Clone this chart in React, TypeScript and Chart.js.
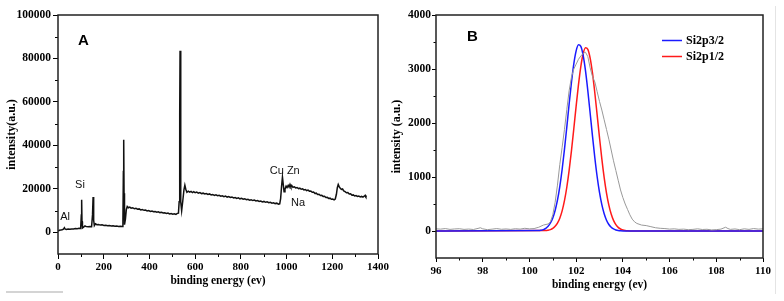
import React, { useEffect, useRef } from 'react';
import { Chart, registerables } from 'chart.js';

Chart.register(...registerables);

// ---------- Panel A: survey spectrum ----------
const surveyEnergy = [
  0, 6, 12, 18, 24, 28, 31, 36, 44, 52, 60, 68, 76, 84, 92, 99, 102, 103.5, 105, 107,
  112, 118, 124, 132, 140, 147, 151, 153.5, 156, 159, 164, 170, 177, 185, 193, 201, 209, 217, 225, 233,
  241, 249, 257, 265, 273, 280, 284, 286, 287.5, 289, 291, 295, 299, 303, 308, 314, 320, 327, 334, 341,
  348, 355, 362, 369, 376, 383, 390, 397, 404, 411, 418, 425, 432, 439, 446, 453, 460, 467, 474, 481,
  488, 495, 502, 509, 516, 522, 527, 530, 532.5, 534, 536, 538, 541, 546, 551, 555, 559, 564, 570, 576,
  582, 588, 594, 600, 607, 614, 621, 628, 635, 642, 649, 656, 663, 670, 677, 684, 691, 698, 705, 712,
  719, 726, 733, 740, 747, 754, 761, 768, 775, 782, 789, 796, 803, 810, 817, 824, 831, 838, 845, 852,
  859, 866, 873, 880, 887, 894, 901, 908, 915, 922, 929, 936, 943, 950, 957, 964, 970, 974, 978, 982,
  985, 989, 993, 998, 1002, 1007, 1011, 1015, 1019, 1023, 1028, 1034, 1040, 1046, 1052, 1058, 1064, 1070, 1076, 1082,
  1088, 1094, 1100, 1106, 1112, 1118, 1124, 1130, 1136, 1142, 1148, 1154, 1160, 1166, 1172, 1178, 1184, 1190, 1196, 1202,
  1208, 1213, 1218, 1222, 1226, 1230, 1235, 1240, 1245, 1250, 1256, 1262, 1268, 1274, 1280, 1286, 1292, 1298, 1304, 1310,
  1316, 1322, 1328, 1334, 1340, 1344, 1347, 1350,
];
const surveyIntensity = [
  500, 900, 1000, 1200, 1400, 2100, 1500, 1300, 1450, 1350, 1550, 1500, 1700, 1650, 1800, 1750, 8000, 15000, 5000, 2000,
  2400, 2900, 2600, 2500, 2700, 2600, 8000, 16200, 5500, 3100, 3900, 3500, 3600, 3300, 3400, 3150, 3250, 3000, 3100, 2900,
  2950, 2800, 2850, 2700, 2750, 2650, 5000, 28000, 42600, 18000, 3500, 6000, 10500, 11900, 11300, 11600, 11100, 11300, 10800, 11000,
  10600, 10750, 10300, 10500, 10100, 10250, 9850, 10000, 9600, 9800, 9450, 9600, 9250, 9400, 9050, 9200, 8850, 9000, 8700, 8850,
  8450, 8650, 8300, 8550, 8250, 8700, 8800, 14000, 55000, 83500, 45000, 14000, 9900, 14500, 19500, 21700, 19800, 18400, 18900, 18500,
  18800, 18300, 18700, 18200, 18500, 18000, 18300, 17800, 18000, 17600, 17850, 17400, 17650, 17200, 17400, 16950, 17200, 16800, 17000, 16600,
  16800, 16400, 16650, 16200, 16450, 16000, 16250, 15800, 16000, 15600, 15850, 15400, 15650, 15200, 15450, 15000, 15200, 14800, 15000, 14600,
  14800, 14400, 14600, 14200, 14400, 14000, 14200, 13800, 14000, 13600, 13800, 13400, 13600, 13200, 13400, 12900, 13100, 15500, 21000, 25400,
  22500, 18600, 19800, 21200, 20600, 21600, 20800, 22000, 20900, 21500, 20700, 20900, 20400, 20600, 20100, 20300, 19800, 20000, 19500, 19700,
  19200, 19400, 18900, 19000, 18400, 18500, 17900, 18000, 17400, 17500, 16900, 17000, 16500, 16600, 16000, 16100, 15600, 15700, 15200, 15300,
  14900, 15300, 17500, 20500, 22000, 21000, 20300, 19700, 19900, 19000, 18700, 18200, 18300, 17600, 17700, 17100, 17200, 16700, 16900, 16500,
  16700, 16300, 16500, 16200, 16600, 17000, 16400, 16700,
];
const surveyNoteText = ['Al', 'Si', 'Cu Zn', 'Na'];
const surveyNoteEnergy = [31, 96, 992, 1050];
const surveyNoteIntensity = [7000, 22000, 28000, 13500];
const surveyXTicks = [0, 200, 400, 600, 800, 1000, 1200, 1400];
const surveyXMinor = [100, 300, 500, 700, 900, 1100, 1300];
const surveyYTicks = [0, 20000, 40000, 60000, 80000, 100000];
const surveyYMinor = [10000, 30000, 50000, 70000, 90000];

// ---------- Panel B: Si 2p ----------
const siRawEnergy = [
  96.0, 96.2, 96.4, 96.6, 96.8, 97.0, 97.2, 97.4, 97.6, 97.8, 97.9, 98.0, 98.2, 98.4, 98.6, 98.8, 99.0, 99.2, 99.4, 99.6,
  99.8, 100.0, 100.2, 100.4, 100.6, 100.8, 100.9, 101.0, 101.1, 101.2, 101.3, 101.4, 101.5, 101.6, 101.7, 101.8, 101.9, 102.0, 102.1, 102.2,
  102.3, 102.4, 102.5, 102.6, 102.7, 102.8, 102.9, 103.0, 103.1, 103.2, 103.3, 103.4, 103.5, 103.6, 103.7, 103.8, 103.9, 104.0, 104.1, 104.2,
  104.3, 104.4, 104.5, 104.6, 104.8, 105.0, 105.2, 105.4, 105.6, 105.8, 106.0, 106.2, 106.4, 106.6, 106.8, 107.0, 107.2, 107.4, 107.6, 107.8,
  108.0, 108.2, 108.4, 108.5, 108.6, 108.8, 109.0, 109.2, 109.4, 109.6, 109.8, 110.0,
];
const siRawIntensity = [
  40, 35, 45, 30, 38, 42, 30, 36, 28, 48, 60, 40, 25, 34, 45, 32, 38, 30, 42, 35,
  50, 40, 45, 70, 110, 130, 170, 300, 530, 850, 1230, 1550, 1880, 2250, 2600, 2850, 3000, 3090, 3180, 3240,
  3290, 3310, 3230, 3020, 2860, 2760, 2580, 2400, 2240, 2060, 1880, 1700, 1500, 1300, 1120, 940, 760, 620, 500, 400,
  300, 220, 170, 140, 110, 100, 80, 60, 50, 45, 35, 40, 30, 35, 25, 30, 40, 28, 32, 20,
  25, 35, 70, 45, 30, 38, 25, 40, 30, 45, 35, 40,
];
const si32Energy = [
  96, 100.4, 100.5, 100.6, 100.7, 100.8, 100.9, 101.0, 101.1, 101.2, 101.3, 101.4, 101.5, 101.6, 101.7, 101.8, 101.9, 102.0, 102.1, 102.2,
  102.3, 102.4, 102.5, 102.6, 102.7, 102.8, 102.9, 103.0, 103.1, 103.2, 103.3, 103.4, 103.5, 103.6, 103.7, 103.8, 103.9, 104.1, 110,
];
const si32Intensity = [
  0, 7, 14, 26, 49, 87, 148, 242, 379, 570, 823, 1139, 1512, 1925, 2351, 2754, 3095, 3335, 3448, 3420,
  3253, 2969, 2598, 2181, 1757, 1357, 1005, 714, 487, 319, 200, 120, 69, 38, 20, 10, 5, 0, 0,
];
const si12Energy = [
  96, 100.7, 100.8, 100.9, 101.0, 101.1, 101.2, 101.3, 101.4, 101.5, 101.6, 101.7, 101.8, 101.9, 102.0, 102.1, 102.2, 102.3, 102.4, 102.5,
  102.6, 102.7, 102.8, 102.9, 103.0, 103.1, 103.2, 103.3, 103.4, 103.5, 103.6, 103.7, 103.8, 103.9, 104.0, 104.1, 104.2, 104.4, 110,
];
const si12Intensity = [
  0, 7, 14, 26, 48, 86, 146, 238, 373, 561, 810, 1121, 1488, 1894, 2313, 2710, 3046, 3282, 3393, 3365,
  3201, 2922, 2556, 2146, 1729, 1335, 989, 703, 479, 314, 197, 118, 68, 37, 20, 10, 5, 0, 0,
];
const siLabels = ['Si2p3/2', 'Si2p1/2'];
const siXTicks = [96, 98, 100, 102, 104, 106, 108, 110];
const siXMinor = [97, 99, 101, 103, 105, 107, 109];
const siYTicks = [0, 1000, 2000, 3000, 4000];
const siYMinor = [500, 1500, 2500, 3500];

const SERIF = '"Liberation Serif", "Times New Roman", serif';
const SANS = '"Liberation Sans", Arial, sans-serif';

const toPoints = (xs: number[], ys: number[]) => xs.map((x, i) => ({ x, y: ys[i] }));

const framePlugin = {
  id: 'frame',
  afterDraw(chart: any, _args: any, opts: any) {
    const { ctx, chartArea: a, scales } = chart;
    const xs = scales.x;
    const ys = scales.y;
    ctx.save();
    ctx.strokeStyle = '#000';
    ctx.lineWidth = 1;
    ctx.beginPath();
    for (const v of opts.minorX) {
      const px = Math.round(xs.getPixelForValue(v)) + 0.5;
      ctx.moveTo(px, a.bottom);
      ctx.lineTo(px, a.bottom + opts.minorLen);
    }
    for (const v of opts.minorY) {
      const py = Math.round(ys.getPixelForValue(v)) + 0.5;
      ctx.moveTo(a.left, py);
      ctx.lineTo(a.left - opts.minorLen, py);
    }
    ctx.stroke();
    ctx.lineWidth = 1.5;
    ctx.strokeStyle = '#222';
    ctx.strokeRect(a.left, a.top, a.right - a.left, a.bottom - a.top);

    ctx.fillStyle = '#000';
    ctx.textAlign = 'center';
    ctx.textBaseline = 'middle';
    ctx.font = `bold 15px ${SANS}`;
    ctx.fillText(opts.panel, a.left + opts.panelDx, a.top + opts.panelDy);

    ctx.font = `11px ${SANS}`;
    ctx.fillStyle = '#111';
    (opts.notes || []).forEach((n: any) => {
      ctx.fillText(n.text, xs.getPixelForValue(n.x), ys.getPixelForValue(n.y));
    });

    if (opts.legend) {
      ctx.textAlign = 'left';
      ctx.font = `bold 12px ${SERIF}`;
      let j = 0;
      chart.data.datasets.forEach((ds: any) => {
        if (!ds.label) return;
        const y = Math.round(a.top + 25 + j * 16) + 0.5;
        const x0 = a.right - 101;
        ctx.strokeStyle = ds.borderColor;
        ctx.lineWidth = 1.5;
        ctx.beginPath();
        ctx.moveTo(x0, y);
        ctx.lineTo(x0 + 20, y);
        ctx.stroke();
        ctx.fillStyle = '#000';
        ctx.fillText(ds.label, x0 + 24, y);
        j++;
      });
    }
    ctx.restore();
  },
};

function makeScales(cfg: any) {
  const tickFontX = { family: SERIF, size: 11, weight: 'bold' };
  const tickFontY = { family: SERIF, size: 11.5, weight: 'bold' };
  return {
    x: {
      type: 'linear',
      min: cfg.xMin,
      max: cfg.xMax,
      afterBuildTicks: (s: any) => { s.ticks = cfg.xTicks.map((v: number) => ({ value: v })); },
      afterFit: (s: any) => { s.height = cfg.xHeight; },
      ticks: { color: '#000', font: tickFontX, padding: cfg.xPad, autoSkip: false, maxRotation: 0, callback: (v: any) => String(v) },
      grid: { drawOnChartArea: false, drawTicks: true, tickLength: cfg.tickLen, color: '#000', tickColor: '#000' },
      border: { display: false },
      title: { display: true, text: 'binding energy (ev)', color: '#000', font: { family: SERIF, size: 11.5, weight: 'bold' }, padding: { top: 0, bottom: cfg.xTitlePad } },
    },
    y: {
      type: 'linear',
      min: cfg.yMin,
      max: cfg.yMax,
      afterBuildTicks: (s: any) => { s.ticks = cfg.yTicks.map((v: number) => ({ value: v })); },
      afterFit: (s: any) => { s.width = cfg.yWidth; },
      ticks: { color: '#000', font: tickFontY, padding: cfg.yPad, autoSkip: false, callback: (v: any) => String(v) },
      grid: { drawOnChartArea: false, drawTicks: true, tickLength: cfg.tickLen, color: '#000', tickColor: '#000' },
      border: { display: false },
      title: { display: true, text: cfg.yTitle, color: '#000', font: { family: SERIF, size: 12, weight: 'bold' }, padding: { top: cfg.yTitlePad, bottom: 0 } },
    },
  };
}

function SurveyChart() {
  const ref = useRef<HTMLCanvasElement | null>(null);
  useEffect(() => {
    if (!ref.current) return;
    const chart = new Chart(ref.current, {
      type: 'line',
      data: {
        datasets: [
          {
            data: toPoints(surveyEnergy, surveyIntensity),
            borderColor: '#111',
            borderWidth: 1.5,
            pointRadius: 0,
            tension: 0,
            fill: false,
          },
        ],
      },
      options: {
        animation: false,
        responsive: false,
        devicePixelRatio: 1,
        parsing: false,
        layout: { padding: { top: 15, right: 14, left: 0, bottom: 0 } },
        plugins: {
          legend: { display: false },
          tooltip: { enabled: false },
          frame: {
            minorX: surveyXMinor,
            minorY: surveyYMinor,
            minorLen: 3,
            panel: 'A',
            panelDx: 25.5,
            panelDy: 26,
            notes: surveyNoteText.map((t, i) => ({ text: t, x: surveyNoteEnergy[i], y: surveyNoteIntensity[i] })),
            legend: false,
          },
        } as any,
        scales: makeScales({
          xMin: 0, xMax: 1400, xTicks: surveyXTicks, xHeight: 47, xPad: 2, xTitlePad: 12.7,
          yMin: -10000, yMax: 100000, yTicks: surveyYTicks, yWidth: 58, yPad: 2, yTitlePad: 4.5,
          yTitle: 'intensity(a.u.)', tickLen: 5,
        }) as any,
      },
      plugins: [framePlugin as any],
    });
    return () => chart.destroy();
  }, []);
  return <canvas ref={ref} width={392} height={301} style={{ width: 392, height: 301, display: 'block' }} />;
}

function SiChart() {
  const ref = useRef<HTMLCanvasElement | null>(null);
  useEffect(() => {
    if (!ref.current) return;
    const chart = new Chart(ref.current, {
      type: 'line',
      data: {
        datasets: [
          {
            data: toPoints(siRawEnergy, siRawIntensity),
            borderColor: '#999999',
            borderWidth: 1,
            pointRadius: 0,
            tension: 0,
            fill: false,
          },
          {
            label: siLabels[0],
            data: toPoints(si32Energy, si32Intensity),
            borderColor: '#1a1aff',
            borderWidth: 1.5,
            pointRadius: 0,
            cubicInterpolationMode: 'monotone',
            fill: false,
          },
          {
            label: siLabels[1],
            data: toPoints(si12Energy, si12Intensity),
            borderColor: '#ff1a1a',
            borderWidth: 1.5,
            pointRadius: 0,
            cubicInterpolationMode: 'monotone',
            fill: false,
          },
        ],
      },
      options: {
        animation: false,
        responsive: false,
        devicePixelRatio: 1,
        parsing: false,
        layout: { padding: { top: 15, right: 21, left: 0, bottom: 0 } },
        plugins: {
          legend: { display: false },
          tooltip: { enabled: false },
          frame: {
            minorX: siXMinor,
            minorY: siYMinor,
            minorLen: 2.5,
            panel: 'B',
            panelDx: 36.5,
            panelDy: 22,
            notes: [],
            legend: true,
          },
        } as any,
        scales: makeScales({
          xMin: 96, xMax: 110, xTicks: siXTicks, xHeight: 43, xPad: 3, xTitlePad: 9.4,
          yMin: -500, yMax: 4000, yTicks: siYTicks, yWidth: 56, yPad: 1, yTitlePad: 9.5,
          yTitle: 'intensity (a.u.)', tickLen: 4,
        }) as any,
      },
      plugins: [framePlugin as any],
    });
    return () => chart.destroy();
  }, []);
  return <canvas ref={ref} width={404} height={301} style={{ width: 404, height: 301, display: 'block' }} />;
}

export default function App() {
  return (
    <div style={{ position: 'absolute', left: 0, top: 0, width: 784, height: 301, background: '#fff', overflow: 'hidden' }}>
      <div style={{ position: 'absolute', left: 0, top: 0 }}>
        <SurveyChart />
      </div>
      <div style={{ position: 'absolute', left: 380, top: 0 }}>
        <SiChart />
      </div>
      <div style={{ position: 'absolute', left: 775, top: 6, width: 1, height: 288, background: '#e4e4e4' }} />
      <div style={{ position: 'absolute', left: 6, top: 291, width: 57, height: 2, background: '#d4d4d4' }} />
    </div>
  );
}
